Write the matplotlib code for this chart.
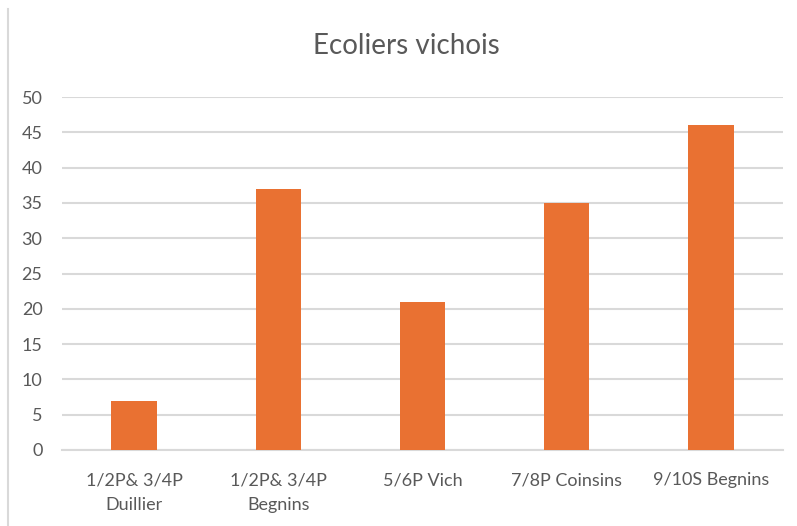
import matplotlib.pyplot as plt
import numpy as np

classes = ["1/2P& 3/4P\nDuillier", "1/2P& 3/4P\nBegnins", "5/6P Vich",
           "7/8P Coinsins", "9/10S Begnins"]
eleves = [7, 37, 21, 35, 46]
yticks = [0, 5, 10, 15, 20, 25, 30, 35, 40, 45, 50]

orange = "#E97132"
grid_col = "#D9D9D9"
txt_col = "#595959"

plt.rcParams['font.family'] = ['Lato', 'DejaVu Sans']

fig = plt.figure(figsize=(7.97, 5.26), dpi=100)
ax = fig.add_axes([62 / 797, 76 / 526, 721 / 797, 353 / 526])

x = np.arange(len(classes))
ax.bar(x, eleves, width=0.315, color=orange, zorder=3)

ax.set_xlim(-0.5, len(classes) - 0.5)
ax.set_ylim(0, 50)
ax.set_yticks(yticks)
ax.set_xticks(x)
ax.set_xticklabels(classes, linespacing=1.65)
ax.tick_params(axis="both", length=0, labelsize=13, colors=txt_col)
ax.tick_params(axis="y", pad=14)
ax.tick_params(axis="x", pad=16)

ax.yaxis.grid(True, color=grid_col, linewidth=1.5, zorder=0)
for s in ["top", "right", "left"]:
    ax.spines[s].set_visible(False)
ax.spines["bottom"].set_color(grid_col)
ax.spines["bottom"].set_linewidth(1.5)

fig.text(406 / 797, 1 - 46 / 526, "Ecoliers vichois", ha="center", va="center",
         fontsize=20, color=txt_col)

# frame line on the left edge of the chart area
fig.add_artist(plt.Line2D([8 / 797, 8 / 797], [0, 1 - 9 / 526],
                          transform=fig.transFigure, color=grid_col, linewidth=1.5))

plt.savefig("out.png", dpi=100)
